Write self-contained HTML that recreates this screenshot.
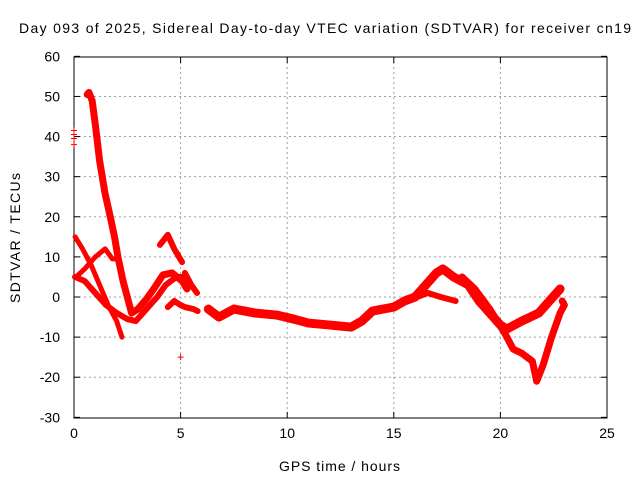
<!DOCTYPE html>
<html><head><meta charset="utf-8"><style>
html,body{margin:0;padding:0;background:#fff}
svg text{font-family:"Liberation Sans",sans-serif;font-size:14px;fill:#000}
</style></head><body>
<svg id="chart" width="640" height="480" xmlns="http://www.w3.org/2000/svg">
<rect width="640" height="480" fill="#fff"/>
<text x="19" y="33" textLength="612" lengthAdjust="spacing">Day 093 of 2025, Sidereal Day-to-day VTEC variation (SDTVAR) for receiver cn19</text>
<text x="279" y="471" textLength="121" lengthAdjust="spacing">GPS time / hours</text>
<text transform="translate(20,238) rotate(-90)" text-anchor="middle" textLength="130" lengthAdjust="spacing">SDTVAR / TECUs</text>
<g id="grid"></g>
<g id="axes"></g>
<g id="series"></g>
</svg>
<script>
const xTicks=[0,5,10,15,20,25];
const yTicks=[-30,-20,-10,0,10,20,30,40,50,60];
const segSteepH=[0.62,0.7,0.85,1.0,1.2,1.45,1.7,1.9,2.06,2.3,2.5,2.7,3.0,3.4,3.8,4.17,4.6,5.07,5.3];
const segSteepV=[50.5,51,49,43,34,26,20,15,10,4,0,-4,-3,-0.5,2.5,5.5,6,4,2];
const segBH=[0.05,0.4,0.8,1.2,1.6,2.0,2.25];
const segBV=[15,12,8,3,-2,-6,-10];
const segCH=[0.05,0.5,1.0,1.5,2.0,2.5,2.9,3.4,3.9,4.3,4.8,5.1];
const segCV=[5,4,1,-2,-4,-5.5,-6,-3,0,3,5,5];
const segDH=[0.1,0.5,1.0,1.46,1.8,2.0];
const segDV=[5,7,10,12,9.5,9.5];
const segEH=[4.03,4.4,4.7,5.07];
const segEV=[13,15.5,12,8.7];
const segFH=[5.2,5.5,5.77];
const segFV=[6,3,1];
const segGH=[4.4,4.7,5.0,5.2,5.6,5.8];
const segGV=[-2.5,-1,-2,-2.5,-3,-3.5];
const mainH=[6.3,6.8,7.5,8.5,9.5,10.3,11,12,13,13.5,14,15,15.5,16,16.5,17,17.3,17.8,18.5,19,19.5,20,20.3,21,21.8,22.3,22.8];
const mainV=[-3,-5,-3,-4,-4.5,-5.5,-6.5,-7,-7.5,-6,-3.5,-2.5,-1,0,3,6,7,5,3,-1,-4,-7,-8,-6,-4,-1,2];
const lowH=[16.1,16.6,17.2,17.9];
const lowV=[0,1,0,-1];
const branchH=[18.2,18.8,19.5,20.2,20.6,21.0,21.5,21.7,22.0,22.4,22.8,23.0,22.9];
const branchV=[5,2,-3,-9,-13,-14,-16,-21,-17,-10,-4,-2,-1];
const ptH=[0,0,0,0,5.0];
const ptV=[38,39.5,40.5,41.5,-15];
const X=h=>74+h*(533/25);
const Y=v=>297-v*(361/90);
const NS="http://www.w3.org/2000/svg";
const grid=document.getElementById('grid'),axes=document.getElementById('axes'),ser=document.getElementById('series');
function mk(t,a,p){const e=document.createElementNS(NS,t);for(const k in a)e.setAttribute(k,a[k]);p.appendChild(e);return e;}
xTicks.forEach(t=>{
 if(t>0&&t<25){const g=mk('line',{x1:X(t),x2:X(t),y1:57,y2:418,stroke:'#a0a0a0','stroke-dasharray':'2,3'},grid);
 
 }
 const l=mk('text',{x:X(t),y:438,'text-anchor':'middle'},axes);l.textContent=t;
 
 
 mk('line',{x1:X(t),x2:X(t),y1:418,y2:412,stroke:'#000'},axes);
 mk('line',{x1:X(t),x2:X(t),y1:57,y2:63,stroke:'#000'},axes);
});
yTicks.forEach(t=>{
 if(t>-30&&t<60){const g=mk('line',{x1:74,x2:607,y1:Y(t),y2:Y(t),stroke:'#a0a0a0','stroke-dasharray':'2,3'},grid);
 
 }
 const l=mk('text',{x:60,y:Y(t)+5,'text-anchor':'end'},axes);l.textContent=t;
 
 
 mk('line',{x1:74,x2:80,y1:Y(t),y2:Y(t),stroke:'#000'},axes);
 mk('line',{x1:607,x2:601,y1:Y(t),y2:Y(t),stroke:'#000'},axes);
});
const fr=mk('rect',{x:74,y:57,width:533,height:361,fill:'none',stroke:'#000'},axes);


function seg(H,V,w,name){
 const p=mk('polyline',{points:H.map((h,i)=>X(h)+','+Y(V[i])).join(' '),fill:'none',stroke:'#ff0000','stroke-width':w,'stroke-linejoin':'round','stroke-linecap':'round'},ser);
 
 
}
seg(segSteepH,segSteepV,7,'series-steep');
seg(segBH,segBV,5,'series-b');
seg(segCH,segCV,6,'series-c');
seg(segDH,segDV,5,'series-d');
seg(segEH,segEV,6,'series-e');
seg(segFH,segFV,6,'series-f');
seg(segGH,segGV,6,'series-g');
seg(mainH,mainV,9,'series-main');
seg(lowH,lowV,6,'series-low');
seg(branchH,branchV,7,'series-branch');
ptH.forEach((h,i)=>{
 const x=X(h),y=Y(ptV[i]);
 const p=mk('path',{d:`M${x-3},${y}H${x+3}M${x},${y-3}V${y+3}`,stroke:'#ff0000','stroke-width':1},ser);
 
 
});
</script>
</body></html>
